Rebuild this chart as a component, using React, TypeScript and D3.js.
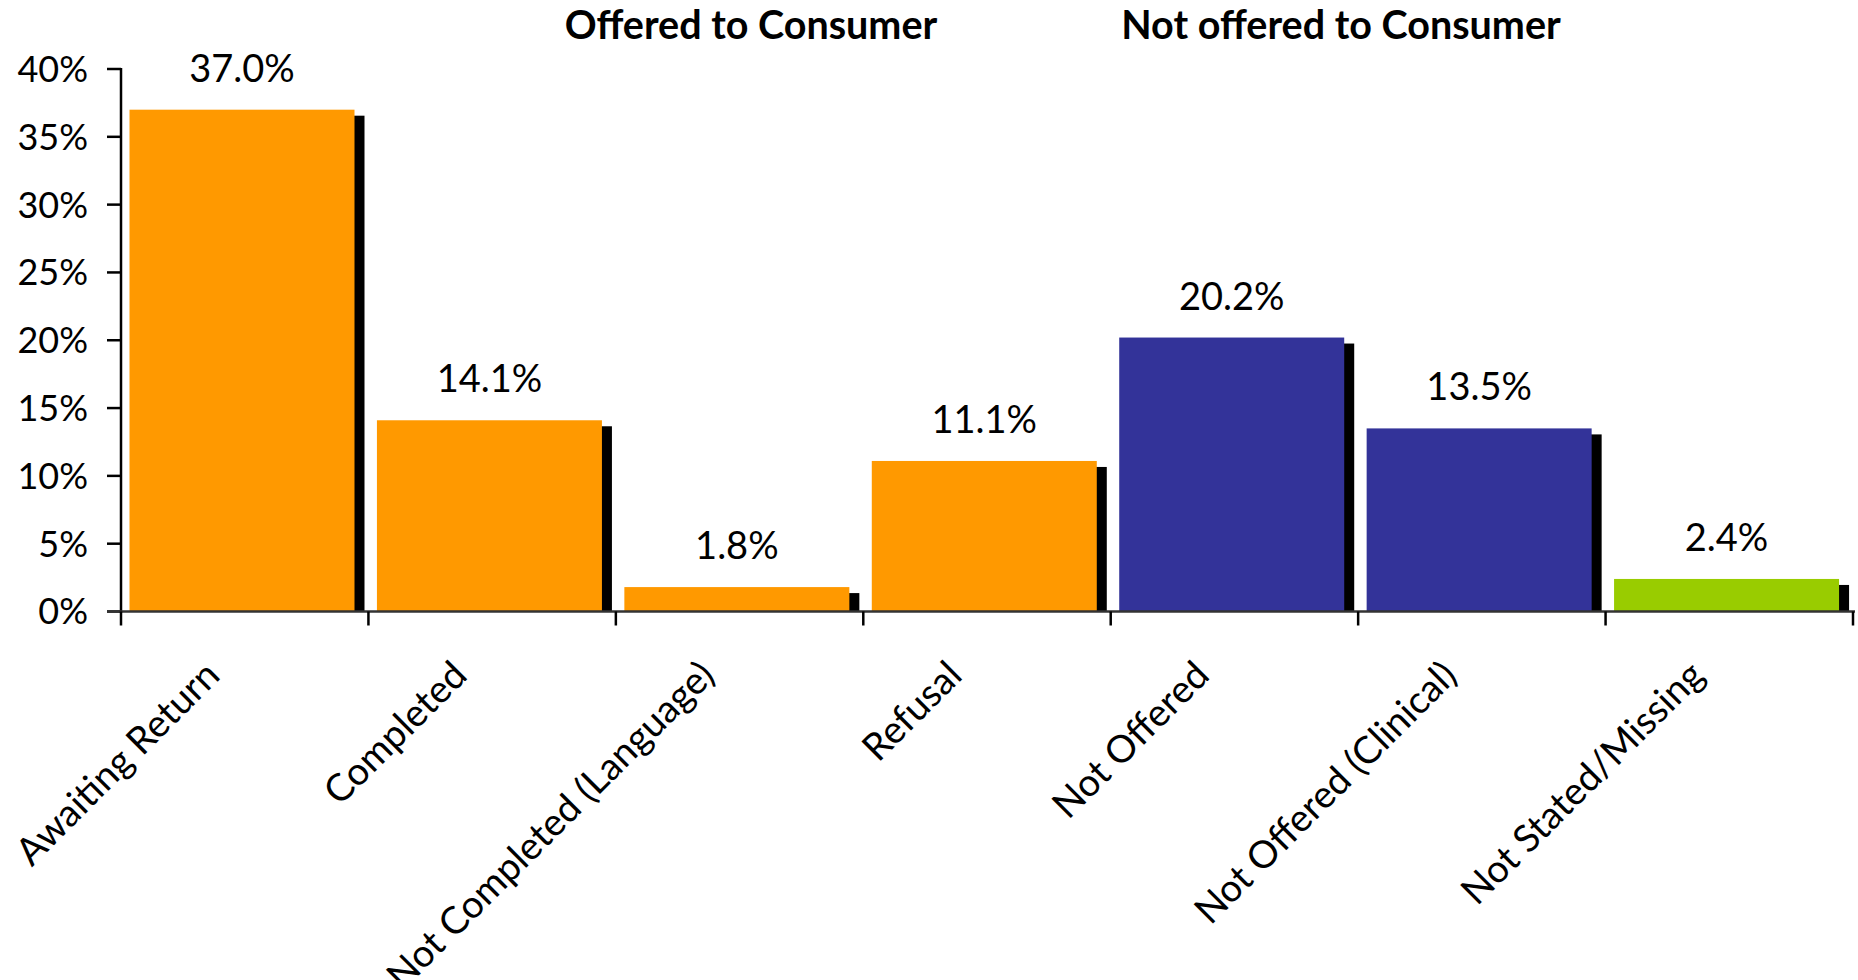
import React from "react";
import * as d3 from "d3";

const categories = [
  "Awaiting Return",
  "Completed",
  "Not Completed (Language)",
  "Refusal",
  "Not Offered",
  "Not Offered (Clinical)",
  "Not Stated/Missing",
];
const values = [37.0, 14.1, 1.8, 11.1, 20.2, 13.5, 2.4];
const groups = ["offered", "offered", "offered", "offered", "notOffered", "notOffered", "missing"];
const groupColors: Record<string, string> = {
  offered: "#FF9900",
  notOffered: "#333399",
  missing: "#99CC00",
};
const yTicks = [0, 5, 10, 15, 20, 25, 30, 35, 40];
const headers = ["Offered to Consumer", "Not offered to Consumer"];
const headerX = [751, 1341];

const W = 1858;
const H = 980;
const FONT = "Lato, 'Open Sans', sans-serif";

export default function App() {
  const x = d3.scaleBand<string>().domain(categories).range([121, 1853]).paddingInner(0).paddingOuter(0);
  const y = d3.scaleLinear().domain([0, 40]).range([611.5, 69]);
  const bw = x.bandwidth();
  const barOff = 8.5;
  const barW = 225;
  const shX = 10;
  const shY = 6;
  const y0 = y(0);

  return (
    <svg width={W} height={H} style={{ position: "absolute", left: 0, top: 0, background: "#fff" }} fontFamily={FONT}>
      {headers.map((h, i) => (
        <text key={h} x={headerX[i]} y={39} textAnchor="middle" fontSize={39.5} fontWeight={700} fill="#000">
          {h}
        </text>
      ))}
      {/* shadows */}
      {categories.map((c, i) => (
        <rect key={"s" + c} x={(x(c) as number) + barOff + shX} y={y(values[i]) + shY} width={barW} height={y0 - y(values[i]) - shY} fill="#000" />
      ))}
      {categories.map((c, i) => (
        <rect key={"b" + c} x={(x(c) as number) + barOff} y={y(values[i])} width={barW} height={y0 - y(values[i])} fill={groupColors[groups[i]]} />
      ))}
      {categories.map((c, i) => (
        <text key={"v" + c} x={(x(c) as number) + barOff + barW / 2} y={y(values[i]) - 28} textAnchor="middle" fontSize={38} fill="#000">
          {values[i].toFixed(1) + "%"}
        </text>
      ))}
      {/* y axis */}
      <line x1={121} x2={121} y1={y(40) - 1} y2={y0 + 1} stroke="#000" strokeWidth={2.5} />
      {yTicks.map((t) => (
        <g key={"t" + t}>
          <line x1={107} x2={121} y1={y(t)} y2={y(t)} stroke="#000" strokeWidth={2.5} />
          <text x={88} y={y(t)} dy="0.36em" textAnchor="end" fontSize={36} fill="#000">
            {t + "%"}
          </text>
        </g>
      ))}
      {/* x axis */}
      <line x1={107} x2={1855} y1={y0} y2={y0} stroke="#333" strokeWidth={2.5} />
      {categories.concat(["__end"]).map((c, i) => {
        const xx = i < categories.length ? (x(c) as number) : x.range()[1];
        return <line key={"xt" + i} x1={xx} x2={xx} y1={y0} y2={y0 + 14} stroke="#000" strokeWidth={2.5} />;
      })}
      {categories.map((c) => {
        const cx = (x(c) as number) + bw / 2 - 23;
        const cy = y0 + 66;
        return (
          <text key={"xl" + c} x={cx} y={cy} textAnchor="end" fontSize={38} fill="#000" transform={`rotate(-45 ${cx} ${cy})`}>
            {c}
          </text>
        );
      })}
    </svg>
  );
}
